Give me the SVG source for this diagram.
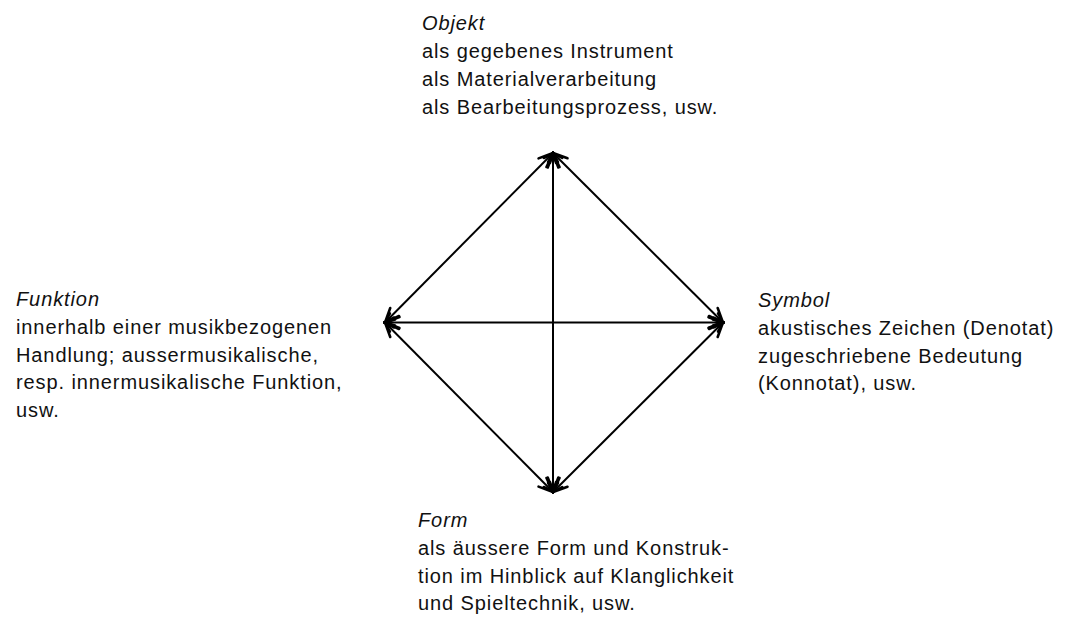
<svg xmlns="http://www.w3.org/2000/svg" width="1073" height="618" viewBox="0 0 1073 618">
<style>
text{font-family:"Liberation Sans",Arial,sans-serif;font-size:20px;letter-spacing:0.9px;fill:#111}
.t{font-style:italic}
.c{stroke:#000;stroke-width:2;fill:none;marker-start:url(#ah);marker-end:url(#ah)}
</style>
<defs>
<marker id="ah" markerUnits="userSpaceOnUse" viewBox="-18 -9 20 18" refX="0" refY="0" markerWidth="20" markerHeight="18" orient="auto-start-reverse">
<path d="M-14,-6.5 L0,0 L-14,6.5 M-10,-3 L0,0 L-10,3" stroke="#000" stroke-width="2.6" fill="none" stroke-linecap="round"/>
</marker>
</defs>
<rect width="1073" height="618" fill="#fff"/>
<g id="connectors">
<line class="c" x1="553" y1="153" x2="385" y2="322.5"/>
<line class="c" x1="553" y1="153" x2="723" y2="322.5"/>
<line class="c" x1="553" y1="492" x2="385" y2="322.5"/>
<line class="c" x1="553" y1="492" x2="723" y2="322.5"/>
<line class="c" x1="553" y1="153" x2="553" y2="492"/>
<line class="c" x1="385" y1="322.5" x2="723" y2="322.5"/>
</g>
<g id="objekt">
<text x="422" y="30" class="t">Objekt</text>
<text x="422" y="58">als gegebenes Instrument</text>
<text x="422" y="86">als Materialverarbeitung</text>
<text x="422" y="114">als Bearbeitungsprozess, usw.</text>
</g>
<g id="funktion">
<text x="16" y="306" class="t">Funktion</text>
<text x="16" y="334">innerhalb einer musikbezogenen</text>
<text x="16" y="362">Handlung; aussermusikalische,</text>
<text x="16" y="389">resp. innermusikalische Funktion,</text>
<text x="16" y="417">usw.</text>
</g>
<g id="symbol">
<text x="758" y="307" class="t">Symbol</text>
<text x="758" y="335">akustisches Zeichen (Denotat)</text>
<text x="758" y="363">zugeschriebene Bedeutung</text>
<text x="758" y="390">(Konnotat), usw.</text>
</g>
<g id="form">
<text x="418" y="527" class="t">Form</text>
<text x="418" y="555">als äussere Form und Konstruk-</text>
<text x="418" y="583">tion im Hinblick auf Klanglichkeit</text>
<text x="418" y="610">und Spieltechnik, usw.</text>
</g>
</svg>
